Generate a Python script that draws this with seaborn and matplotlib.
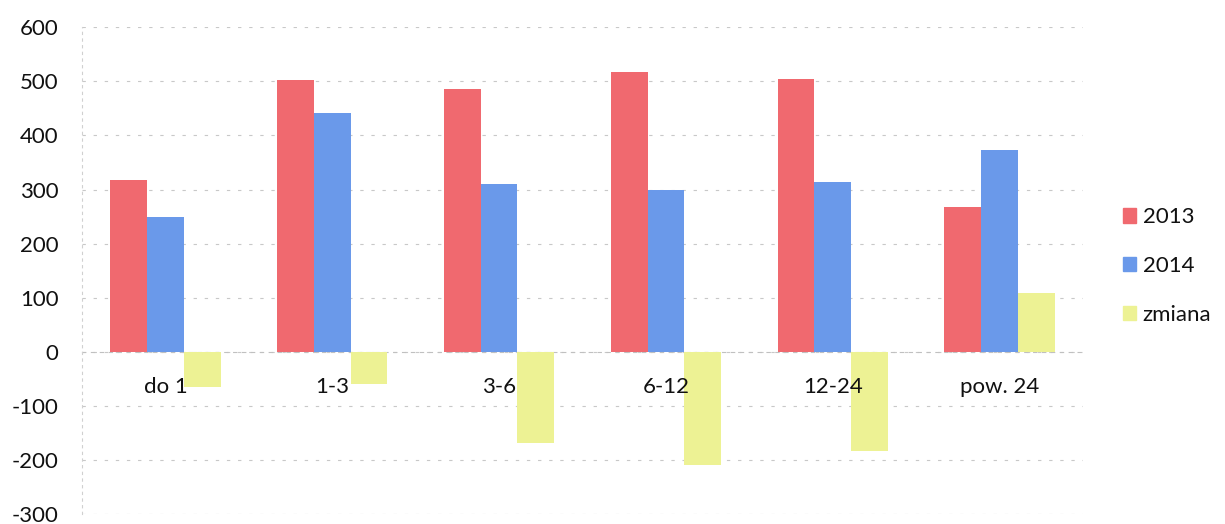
import numpy as np
import pandas as pd
import seaborn as sns
import matplotlib.pyplot as plt

categories = ['do 1', '1-3', '3-6', '6-12', '12-24', 'pow. 24']
v2013 = [317, 503, 485, 518, 505, 268]
v2014 = [250, 442, 311, 300, 313, 373]
zmiana = [-65, -60, -168, -210, -183, 108]
series = ['2013', '2014', 'zmiana']
colors = ['#F0696F', '#6A99EA', '#EDF294']

df = pd.DataFrame({'kat': categories * 3,
                   'seria': [s for s in series for _ in categories],
                   'wartosc': v2013 + v2014 + zmiana})

sns.set_style('white')
plt.rcParams['font.family'] = ['Lato', 'DejaVu Sans']
plt.rcParams['axes.unicode_minus'] = False
plt.rcParams['text.color'] = '#111111'
plt.rcParams['xtick.color'] = '#111111'
plt.rcParams['ytick.color'] = '#111111'

fig = plt.figure(figsize=(12.25, 5.24), dpi=100)
ax = fig.add_axes([0.067, 0.019, 0.817, 0.929])

sns.barplot(data=df, x='kat', y='wartosc', hue='seria', palette=colors,
            width=0.66, saturation=1, linewidth=0, ax=ax, legend=False)

ax.set_ylim(-300, 600)
ax.set_yticks(range(-300, 601, 100))
ax.set_xlim(-0.5, len(categories) - 0.5)
ax.set_xlabel('')
ax.set_ylabel('')
ax.yaxis.grid(True, color='#c8c8c8', linestyle=(0, (3, 7)), linewidth=0.8)
ax.set_axisbelow(True)
ax.xaxis.set_zorder(5)  # etykiety kategorii nad slupkami
for s in ['top', 'right']:
    ax.spines[s].set_visible(False)
ax.spines['left'].set_color('#d0d0d0')
ax.spines['left'].set_linestyle((0, (2, 4)))
ax.spines['bottom'].set_position(('data', 0))
ax.spines['bottom'].set_color('#c0c0c0')
ax.spines['bottom'].set_linestyle((0, (3, 5)))
ax.spines['bottom'].set_zorder(0.6)
ax.tick_params(axis='x', length=0, pad=18, labelsize=16)
ax.tick_params(axis='y', length=0, pad=17, labelsize=16)

handles = [plt.Rectangle((0, 0), 1, 1, color=c) for c in colors]
fig.legend(handles, series, loc='center left', bbox_to_anchor=(0.9, 0.492),
           frameon=False, fontsize=16, handlelength=0.6, handleheight=0.6,
           handletextpad=0.3, labelspacing=1.3)

plt.savefig('out.png', dpi=100)
